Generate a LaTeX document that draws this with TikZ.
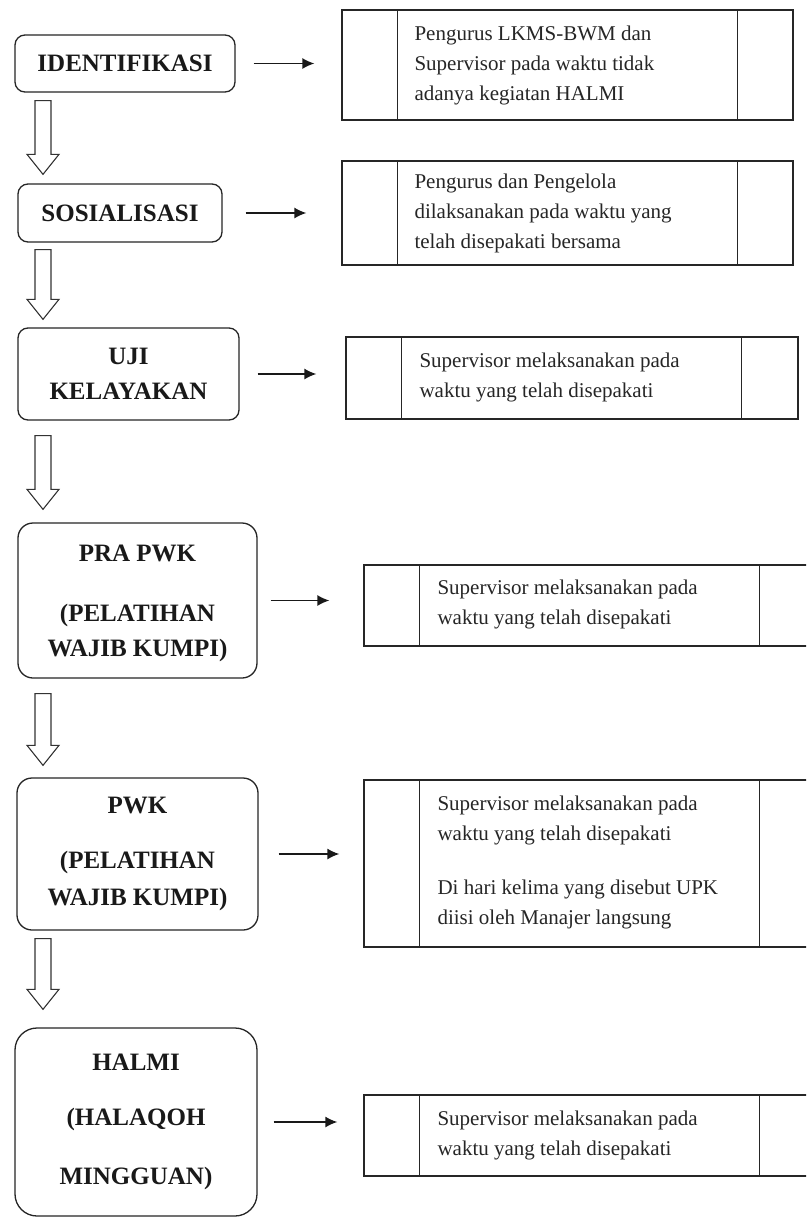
\documentclass[tikz,border=0pt]{standalone}
\usepackage{fontspec}
\setmainfont{Liberation Serif}
\usetikzlibrary{calc,arrows.meta}
\tikzset{
  stage/.style={draw=black!85, line width=1.3pt, rounded corners=10pt, inner sep=0pt, align=center,
    font=\fontsize{25}{35}\selectfont\bfseries, text=black!90},
  notebox/.style={draw=black!85, line width=1.3pt, inner sep=0pt},
  cellline/.style={draw=black!85, line width=1.3pt},
  notetext/.style={anchor=west, inner sep=0pt, align=left, font=\fontsize{21}{30}\selectfont, text=black!85},
  harrow/.style={draw=black!80, line width=1.1pt, fill=white, line join=miter},
  sarrow/.style={draw=black!90, line width=1.5pt, -{Latex[length=12pt,width=11pt]}}
}
\newcommand\hollowarr[4]{%
  \draw[harrow] let \p1=(#1.south), \p2=(#2.north) in
    (35pt,\y1-#3) -- (51pt,\y1-#3) -- (51pt,\y2+#4+20pt) -- (59pt,\y2+#4+20pt)
    -- (43pt,\y2+#4) -- (27pt,\y2+#4+20pt) -- (35pt,\y2+#4+20pt) -- cycle;}
\newcommand\smallarr[4]{%
  \draw[sarrow] ([xshift=#3]#1.east) -- ($(#2.west |- #1.east)+(-#4,0)$);}
\newcommand\cells[1]{%
  \draw[cellline] ([xshift=56pt]#1.north west) -- ([xshift=56pt]#1.south west);
  \draw[cellline] ([xshift=396pt]#1.north west) -- ([xshift=396pt]#1.south west);}
\begin{document}
\begin{tikzpicture}[x=1pt,y=-1pt]
\useasboundingbox (0,0) rectangle (806,1218);
\clip (0,0) rectangle (806,1218);
\fill[white] (0,0) rectangle (806,1218);

% left stages
\node[stage, minimum width=220pt, minimum height=57pt] (L1) at (125,63.5) {IDENTIFIKASI};
\node[stage, minimum width=204pt, minimum height=58pt] (L2) at (120,213) {SOSIALISASI};
\node[stage, minimum width=221pt, minimum height=92pt] (L3) at (128.5,374) {UJI\\KELAYAKAN};
\node[stage, rounded corners=15pt, minimum width=239pt, minimum height=155pt] (L4) at (137.5,600.5) {};
\node[font=\fontsize{25}{35}\selectfont\bfseries, text=black!90, align=center, inner sep=0pt] (L4t)
  at ([yshift=-3pt]L4.center) {PRA PWK\\[25pt](PELATIHAN\\WAJIB KUMPI)};
\node[stage, rounded corners=15pt, minimum width=241pt, minimum height=152pt] (L5) at (137.5,854)
  {PWK\\[20pt](PELATIHAN\\[2pt]WAJIB KUMPI)};
\node[stage, rounded corners=22pt, minimum width=242pt, minimum height=188pt] (L6) at (136,1122)
  {HALMI\\[20pt](HALAQOH\\[24pt]MINGGUAN)};

% right notes
\node[notebox, minimum width=451pt, minimum height=110pt] (R1) at (567.5,65) {};
\node[notebox, minimum width=451pt, minimum height=104pt] (R2) at (567.5,213) {};
\node[notebox, minimum width=452pt, minimum height=82pt] (R3) at (572,378) {};
\node[notebox, minimum width=451pt, minimum height=81pt] (R4) at (589.5,605.5) {};
\node[notebox, minimum width=451pt, minimum height=167pt] (R5) at (589.5,863.5) {};
\node[notebox, minimum width=451pt, minimum height=81pt] (R6) at (589.5,1135.5) {};
\cells{R1}\cells{R2}\cells{R3}\cells{R4}\cells{R5}\cells{R6}

\node[notetext] (T1) at ([xshift=73pt]R1.west) {Pengurus LKMS-BWM dan\\Supervisor pada waktu tidak\\adanya kegiatan HALMI};
\node[notetext] (T2) at ([xshift=73pt]R2.west) {Pengurus dan Pengelola\\dilaksanakan pada waktu yang\\telah disepakati bersama};
\node[notetext] (T3) at ([xshift=74pt,yshift=1pt]R3.west) {Supervisor melaksanakan pada\\waktu yang telah disepakati};
\node[notetext] (T4) at ([xshift=74pt,yshift=1pt]R4.west) {Supervisor melaksanakan pada\\waktu yang telah disepakati};
\node[notetext] (T5) at ([xshift=74pt,yshift=1pt]R5.west) {Supervisor melaksanakan pada\\waktu yang telah disepakati\\[24pt]Di hari kelima yang disebut UPK\\diisi oleh Manajer langsung};
\node[notetext] (T6) at ([xshift=74pt,yshift=0pt]R6.west) {Supervisor melaksanakan pada\\waktu yang telah disepakati};

% small arrows
\smallarr{L1}{R1}{18pt}{27pt}
\smallarr{L2}{R2}{23pt}{35pt}
\smallarr{L3}{R3}{18pt}{29pt}
\smallarr{L4}{R4}{13pt}{34pt}
\smallarr{L5}{R5}{20pt}{24pt}
\smallarr{L6}{R6}{16pt}{26pt}

% hollow arrows
\hollowarr{L1}{L2}{8pt}{9pt}
\hollowarr{L2}{L3}{7pt}{8pt}
\hollowarr{L3}{L4}{15pt}{13pt}
\hollowarr{L4}{L5}{15pt}{12pt}
\hollowarr{L5}{L6}{8pt}{18pt}
\end{tikzpicture}
\end{document}
